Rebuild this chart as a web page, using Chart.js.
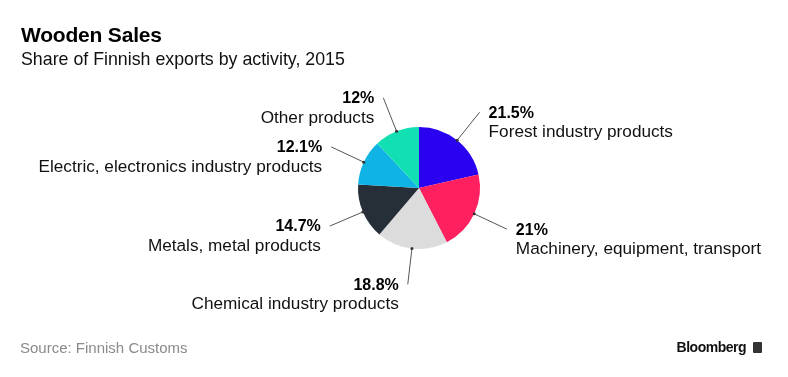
<!DOCTYPE html>
<html>
<head>
<meta charset="utf-8">
<script src="https://cdn.jsdelivr.net/npm/chart.js@4"></script>
<style>
  html, body { margin: 0; padding: 0; background: #fff; }
  body { width: 788px; height: 377px; position: relative; overflow: hidden; font-family: "Liberation Sans", Arial, sans-serif; }
  #wrap { position: absolute; left: 0; top: 0; width: 788px; height: 377px; }
  .title { position: absolute; left: 21px; top: 23px; font-size: 21px; font-weight: bold; color: #000; letter-spacing: -0.2px; }
  .subtitle { position: absolute; left: 21px; top: 49px; font-size: 17.8px; color: #111; }
  .source { position: absolute; left: 20px; top: 339px; font-size: 15px; color: #8a8a8a; }
  .brand { position: absolute; right: 26px; top: 339px; font-size: 14px; font-weight: bold; color: #111; letter-spacing: -0.5px; }
  .logo { display: inline-block; width: 9px; height: 11px; background: #333; border-radius: 1px; margin-left: 7px; vertical-align: -1px; }
</style>
</head>
<body>
<div id="wrap"><canvas id="pie" width="788" height="377"></canvas></div>
<div class="title">Wooden Sales</div>
<div class="subtitle">Share of Finnish exports by activity, 2015</div>
<div class="source">Source: Finnish Customs</div>
<div class="brand">Bloomberg<span class="logo"></span></div>
<script>
// Chart data
const categories = ['Forest industry products', 'Machinery, equipment, transport', 'Chemical industry products',
    'Metals, metal products', 'Electric, electronics industry products', 'Other products'];
const shares = [21.5, 21, 18.8, 14.7, 12.1, 12];
const shareLabels = ['21.5%', '21%', '18.8%', '14.7%', '12.1%', '12%'];
const sliceColors = ['#2a02f0', '#ff2060', '#dcdcdc', '#262e38', '#10b4e4', '#12e0b2'];

// Leader lines + two-line labels
const leaderLabels = {
    id: 'leaderLabels',
    afterDraw(chart) {
        const ctx = chart.ctx;
        const arcs = chart.getDatasetMeta(0).data;
        ctx.save();
        arcs.forEach((arc, i) => {
            const mid = (arc.startAngle + arc.endAngle) / 2;
            const cos = Math.cos(mid), sin = Math.sin(mid);
            const x1 = arc.x + cos * arc.outerRadius;
            const y1 = arc.y + sin * arc.outerRadius;
            const x2 = arc.x + cos * (arc.outerRadius + 36);
            const y2 = arc.y + sin * (arc.outerRadius + 36);

            ctx.strokeStyle = '#555';
            ctx.lineWidth = 1;
            ctx.beginPath();
            ctx.moveTo(x1, y1);
            ctx.lineTo(x2, y2);
            ctx.stroke();
            ctx.fillStyle = '#333';
            ctx.beginPath();
            ctx.arc(x1, y1, 1.5, 0, Math.PI * 2);
            ctx.fill();

            const right = cos > 0;
            const tx = right ? x2 + 9 : x2 - 9;
            ctx.textAlign = right ? 'left' : 'right';
            ctx.textBaseline = 'middle';
            ctx.fillStyle = '#000';
            ctx.font = 'bold 16px "Liberation Sans", Arial, sans-serif';
            ctx.fillText(shareLabels[i], tx, y2 + 1);
            ctx.fillStyle = '#111';
            ctx.font = '17.2px "Liberation Sans", Arial, sans-serif';
            ctx.fillText(categories[i], tx, y2 + 20);
        });
        ctx.restore();
    }
};

new Chart(document.getElementById('pie'), {
    type: 'pie',
    data: {
        labels: categories,
        datasets: [{
            data: shares,
            backgroundColor: sliceColors,
            borderWidth: 0,
            hoverOffset: 0
        }]
    },
    options: {
        responsive: false,
        animation: false,
        events: [],
        layout: {
            padding: { left: 358, right: 308, top: 127, bottom: 128 }
        },
        plugins: {
            legend: { display: false },
            tooltip: { enabled: false }
        }
    },
    plugins: [leaderLabels]
});
</script>
</body>
</html>
